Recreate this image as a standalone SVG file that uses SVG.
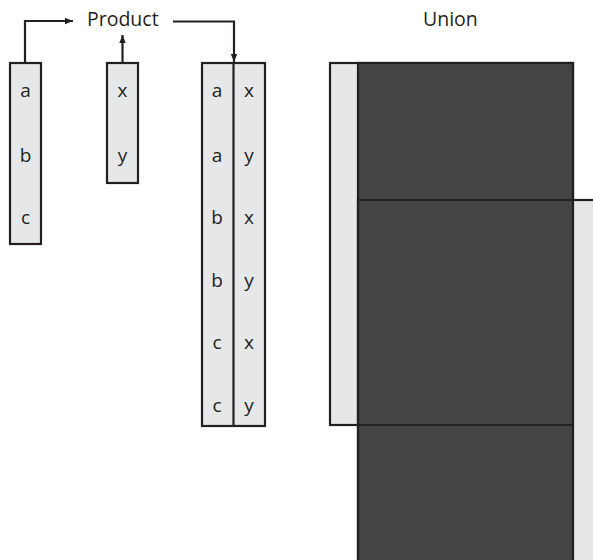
<svg xmlns="http://www.w3.org/2000/svg" width="593" height="560" viewBox="0 0 593 560">
<defs>
<marker id="ah" viewBox="0 0 10 10" refX="10" refY="5" markerWidth="8" markerHeight="8" orient="auto" markerUnits="userSpaceOnUse">
<path d="M0,1 L10,5 L0,9 z" fill="#231f20"/>
</marker>
<style>
.box{fill:#e6e7e8;stroke:#231f20;stroke-width:2.2}
.dark{fill:#444444;stroke:#231f20;stroke-width:2.2}
.ln{fill:none;stroke:#231f20;stroke-width:2.2}
.t{font-family:"Open Sans","Noto Sans",sans-serif;font-size:19px;fill:#231f20;text-anchor:middle}
.h{font-family:"Open Sans","Noto Sans",sans-serif;font-size:19.5px;fill:#231f20}
</style>
</defs>
<rect width="593" height="560" fill="#ffffff"/>
<g id="set-abc">
<rect class="box" x="10" y="63" width="31" height="181"/>
<text class="t" x="25.5" y="97">a</text>
<text class="t" x="25.5" y="162">b</text>
<text class="t" x="25.5" y="224">c</text>
</g>
<g id="set-xy">
<rect class="box" x="107" y="63" width="31" height="120"/>
<text class="t" x="122.5" y="97">x</text>
<text class="t" x="122.5" y="162">y</text>
</g>
<g id="product-label">
<text class="h" x="87" y="26">Product</text>
</g>
<g id="product-result">
<rect class="box" x="202" y="63" width="63" height="363"/>
<line class="ln" x1="233.5" y1="63" x2="233.5" y2="426"/>
<text class="t" x="217" y="97">a</text>
<text class="t" x="249" y="97">x</text>
<text class="t" x="217" y="162">a</text>
<text class="t" x="249" y="162">y</text>
<text class="t" x="217" y="224">b</text>
<text class="t" x="249" y="224">x</text>
<text class="t" x="217" y="287">b</text>
<text class="t" x="249" y="287">y</text>
<text class="t" x="217" y="349">c</text>
<text class="t" x="249" y="349">x</text>
<text class="t" x="217" y="412">c</text>
<text class="t" x="249" y="412">y</text>
</g>
<g id="union">
<text class="h" x="423" y="26">Union</text>
<rect class="box" x="330" y="63" width="243" height="362"/>
<rect class="box" x="358" y="200" width="245" height="370"/>
<rect class="dark" x="358" y="63" width="215" height="510"/>
<line class="ln" x1="358" y1="200" x2="593" y2="200"/>
<line class="ln" x1="330" y1="425" x2="573" y2="425"/>
</g>
<g id="connectors">
<path class="ln" d="M25,63 V21 H73" marker-end="url(#ah)"/>
<path class="ln" d="M122.5,63 V35" marker-end="url(#ah)"/>
<path class="ln" d="M173,21.5 H234 V62" marker-end="url(#ah)"/>
</g>
</svg>
